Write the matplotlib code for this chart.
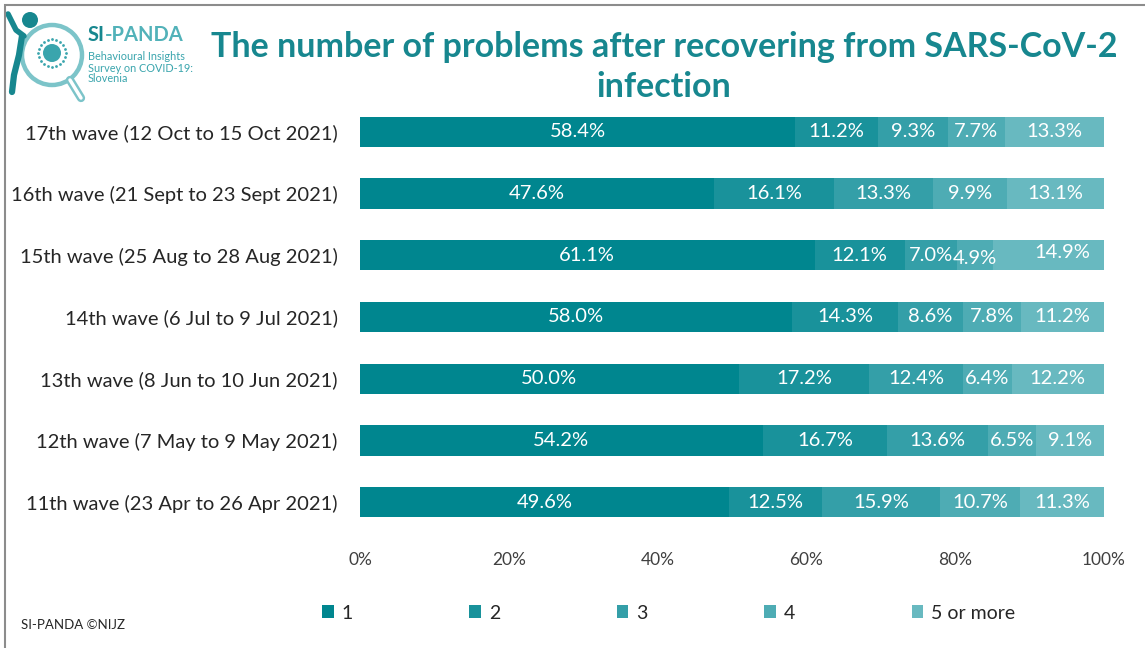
import matplotlib
matplotlib.use("Agg")
import matplotlib.pyplot as plt
from matplotlib.patches import Circle, Rectangle
import numpy as np

plt.rcParams["font.family"] = ["Lato", "DejaVu Sans"]

waves = ["11th wave (23 Apr to 26 Apr 2021)",
         "12th wave (7 May to 9 May 2021)",
         "13th wave (8 Jun to 10 Jun 2021)",
         "14th wave (6 Jul to 9 Jul 2021)",
         "15th wave (25 Aug to 28 Aug 2021)",
         "16th wave (21 Sept to 23 Sept 2021)",
         "17th wave (12 Oct to 15 Oct 2021)"]
categories = ["1", "2", "3", "4", "5 or more"]
one = [49.6, 54.2, 50.0, 58.0, 61.1, 47.6, 58.4]
two = [12.5, 16.7, 17.2, 14.3, 12.1, 16.1, 11.2]
three = [15.9, 13.6, 12.4, 8.6, 7.0, 13.3, 9.3]
four = [10.7, 6.5, 6.4, 7.8, 4.9, 9.9, 7.7]
five_plus = [11.3, 9.1, 12.2, 11.2, 14.9, 13.1, 13.3]
xticks = [0, 20, 40, 60, 80, 100]

colors = ["#00868f", "#19929b", "#349fa8", "#4eacb4", "#68b9c0"]
teal = "#17878f"
light = "#52b2b9"

fig = plt.figure(figsize=(11.45, 6.48), dpi=100)
ax = fig.add_axes([0.3144, 0.1775, 0.6498, 0.6667])

series = [np.array(s, dtype=float) for s in [one, two, three, four, five_plus]]
totals = np.sum(series, axis=0)
y = np.arange(len(waves))
left = np.zeros(len(waves))
for vals, c, name in zip(series, colors, categories):
    # 100% stacked: widths are shares of the row total, labels keep raw values
    widths = vals / totals * 100
    ax.barh(y, widths, left=left, height=0.49, color=c, label=name)
    for i, v in enumerate(vals):
        dx, dy = 0, 0
        # the 15th wave labels are nudged to avoid overlap
        if i == 4 and name == "4":
            dy = -0.06
        if i == 4 and name == "5 or more":
            dx, dy = 1.8, 0.05
        ax.text(left[i] + widths[i] / 2 + dx, y[i] + dy, f"{v:.1f}%", ha="center",
                va="center", color="white", fontsize=14.5)
    left += widths

ax.set_xlim(0, 100)
ax.set_ylim(-0.5, len(waves) - 0.5)
ax.set_yticks(y)
ax.set_yticklabels(waves, fontsize=14.5, color="#262626")
ax.set_xticks(xticks)
ax.set_xticklabels([f"{t}%" for t in xticks], fontsize=12.5, color="#404040")
ax.tick_params(length=0)
ax.tick_params(axis="x", pad=14)
ax.tick_params(axis="y", pad=16)
for s in ax.spines.values():
    s.set_visible(False)

fig.legend(loc="center", bbox_to_anchor=(0.584, 0.054), ncol=5, frameon=False,
           fontsize=14, handlelength=0.6, handleheight=0.6, handletextpad=0.4,
           columnspacing=6.0, labelcolor="#262626")

fig.text(0.58, 0.897, "The number of problems after recovering from SARS-CoV-2\ninfection",
         ha="center", va="center", fontsize=24.5, fontweight="bold", color=teal,
         linespacing=1.3)

# SI-PANDA logo, drawn in pixel units
lg = fig.add_axes([0, 1 - 130 / 648, 229 / 1145, 130 / 648])
lg.set_xlim(0, 229)
lg.set_ylim(130, 0)
lg.axis("off")
lg.add_patch(Circle((52, 55), 30, fill=False, ec="#7cc4c9", lw=3.2))
lg.plot([70, 81], [80, 98], color="#7cc4c9", lw=6, solid_capstyle="round")
lg.plot([70, 81], [80, 98], color="white", lw=2.5, solid_capstyle="round")
lg.add_patch(Circle((52, 53), 9, fc="#3aa5ad", ec="none"))
ang = np.linspace(0, 2 * np.pi, 20, endpoint=False)
lg.scatter(52 + 14 * np.cos(ang), 53 + 14 * np.sin(ang), s=4, color="#3aa5ad", lw=0)
lg.add_patch(Circle((30, 20), 8, fc=teal, ec="none"))
lg.plot([8, 16, 24], [14, 30, 36], color=teal, lw=4, solid_capstyle="round")
lg.plot([22, 19, 14, 12], [36, 55, 75, 92], color=teal, lw=4.5, solid_capstyle="round")
si = lg.text(88, 35, "SI", fontsize=14.5, fontweight="bold", color=teal, va="center")
lg.annotate("-PANDA", xy=(1, 0.5), xycoords=si, va="center", fontsize=14.5,
            fontweight="bold", color=light)
lg.text(88, 68, "Behavioural Insights\nSurvey on COVID-19:\nSlovenia",
        fontsize=7.8, color="#3aa5ad", va="center", linespacing=1.0)

fig.text(0.018, 0.035, "SI-PANDA \u00a9NIJZ", fontsize=9.5, color="#262626", va="center")

fig.patches.append(Rectangle((0.004, -0.1), 1.2, 1.092, transform=fig.transFigure,
                             fill=False, ec="#8c8c8c", lw=1.5, figure=fig))

fig.savefig("out.png", dpi=100)
